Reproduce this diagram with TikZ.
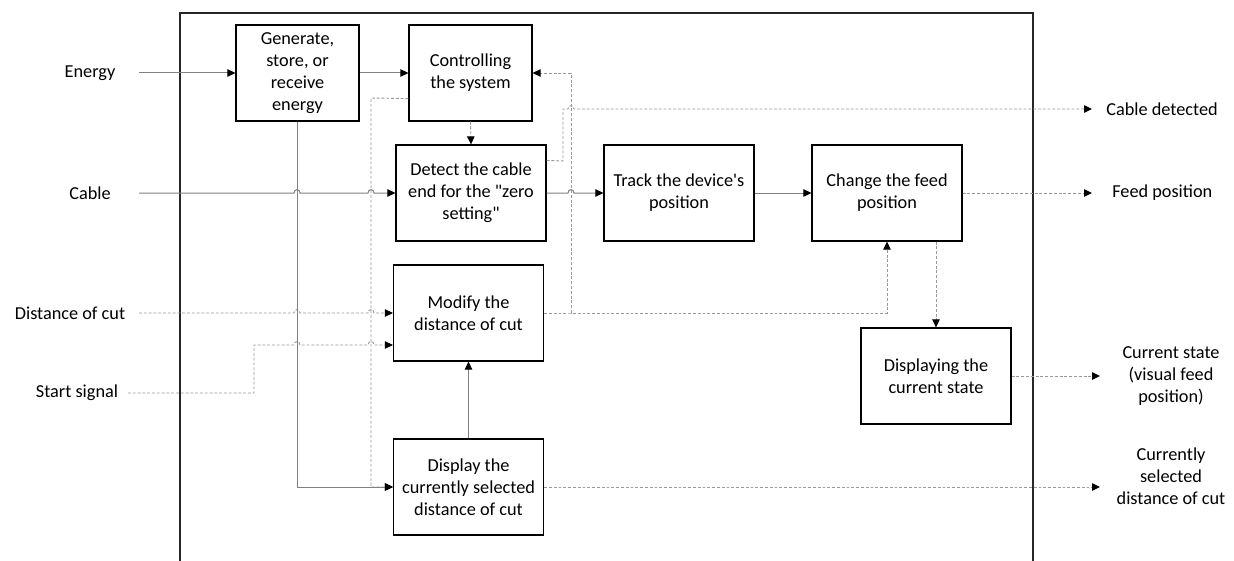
\documentclass[tikz,border=0pt]{standalone}
\usepackage{fontspec}
\newfontfamily\cf{Carlito}
\usetikzlibrary{arrows.meta,calc}
\newcommand\jover[2]{-- (#1-3,#2) .. controls (#1-3,#2-4.5) and (#1+3,#2-4.5) .. (#1+3,#2)}
\tikzset{
  txt/.style={font=\cf\fontsize{13.7}{16.5}\selectfont},
  box/.style={txt,draw=black,line width=0.9pt,minimum width=112.5pt,minimum height=72pt,align=center,inner sep=2pt},
  lbl/.style={txt,align=center,inner sep=0pt},
  sol/.style={draw=black!50,line width=0.75pt},
  dsh/.style={draw=black!40,line width=0.7pt,dash pattern=on 2.2pt off 1.4pt},
  arr/.style={-{Triangle[length=6pt,width=5.6pt,color=black]}},
  frame/.style={draw=black!85,line width=1.1pt}
}
\begin{document}
\begin{tikzpicture}[x=0.75pt,y=-0.75pt]
\useasboundingbox (0,0) rectangle (1234,560);
\fill[white] (0,0) rectangle (1234,560);
\draw[frame] (180,565) -- (180,13) -- (1033,13) -- (1033,565);

% boxes
\node[box,minimum width=92.25pt] (gen) at (297.5,73) {Generate,\\store, or\\receive\\energy};
\node[box,minimum width=92.25pt] (ctrl) at (470.5,73) {Controlling\\the system};
\node[box] (det) at (471,193) {Detect the cable\\end for the "zero\\setting"};
\node[box] (trk) at (679,193) {Track the device's\\position};
\node[box] (chg) at (887,193) {Change the feed\\position};
\node[box] (mod) at (468.5,313) {Modify the\\distance of cut};
\node[box] (dsp) at (468.5,487) {Display the\\currently selected\\distance of cut};
\node[box] (cur) at (936,376) {Displaying the\\current state};

% left labels
\node[lbl] (lE) at (90,73) {Energy};
\node[lbl] (lC) at (90,193) {Cable};
\node[lbl] (lD) at (70,313) {Distance of cut};
\node[lbl] (lS) at (77,393) {Start signal};
\coordinate (eIn) at (139,73);
\coordinate (cIn) at (139,193);
\coordinate (dIn) at (139,313);
\coordinate (sIn) at (128,393);

% right labels
\node[lbl,anchor=west] (rCD) at (1106,109) {Cable detected};
\node[lbl,anchor=west] (rFP) at (1112,193) {Feed position};
\node[lbl] (rCS) at (1171,376) {Current state\\(visual feed\\position)};
\node[lbl] (rSD) at (1171,476) {Currently\\selected\\distance of cut};
\coordinate (cdOut) at (1092,109);
\coordinate (fpOut) at (1092,193);
\coordinate (csOut) at (1100,376);
\coordinate (sdOut) at (1100,487);
\coordinate (mj) at (571,313);

% dashed connectors
\draw[dsh,arr] (ctrl.south) -- (det.north);
\draw[dsh,arr] ($(ctrl.south west)+(0,-23)$) -- (371,98) -- (371,487) -- (dsp.west);
\draw[dsh,arr] ($(det.north east)+(0,16)$) -- (563,161) -- (563,109) \jover{571}{109} -- (cdOut);
\draw[dsh,arr] (mod.east) -- (mj) -- (887,313) -- (chg.south);
\draw[dsh,arr] (mj) -- (571,73) -- (ctrl.east);
\draw[dsh,arr] (dIn) \jover{297}{313} \jover{371}{313} -- (mod.west);
\draw[dsh,arr] (sIn) -- (254,393) -- (254,345) \jover{297}{345} \jover{371}{345} -- ($(mod.west)+(0,32)$);
\draw[dsh,arr] (chg.east) -- (fpOut);
\draw[dsh,arr] (chg.south -| cur.north) -- (cur.north);
\draw[dsh,arr] (cur.east) -- (csOut);
\draw[dsh,arr] (dsp.east) -- (sdOut);

% solid connectors
\draw[sol,arr] (eIn) -- (gen.west);
\draw[sol,arr] (gen.east) -- (ctrl.west);
\draw[sol,arr] (cIn) \jover{297}{193} \jover{371}{193} -- (det.west);
\draw[sol,arr] (det.east) \jover{571}{193} -- (trk.west);
\draw[sol,arr] (trk.east) -- (chg.west);
\draw[sol,arr] (gen.south) -- (297.5,487) -- (dsp.west);
\draw[sol,arr] (dsp.north) -- (mod.south);
\end{tikzpicture}
\end{document}
